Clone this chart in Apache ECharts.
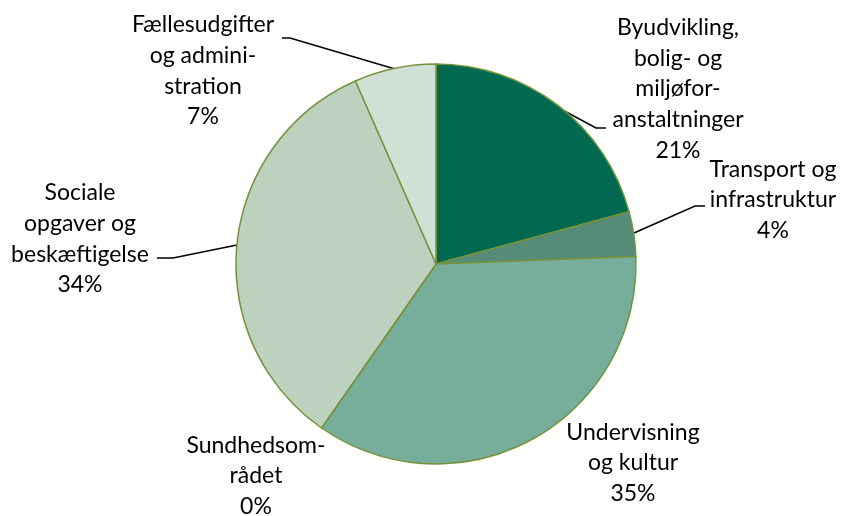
<!DOCTYPE html>
<html>
<head>
<meta charset="utf-8">
<script src="https://cdn.jsdelivr.net/npm/echarts@6/dist/echarts.min.js"></script>
<style>
  html, body { margin: 0; padding: 0; background: #fff; }
  #chart { width: 842px; height: 516px; }
</style>
</head>
<body>
<div id="chart"></div>
<script>
// Shares of the budget
const categories = [
  "Byudvikling,\nbolig- og\nmiljøfor-\nanstaltninger",
  "Transport og\ninfrastruktur",
  "Undervisning\nog kultur",
  "Sundhedsom-\nrådet",
  "Sociale\nopgaver og\nbeskæftigelse",
  "Fællesudgifter\nog admini-\nstration",
];
const values = [20.8, 3.6, 35.3, 0, 33.7, 6.6];
const percentLabels = ["21%", "4%", "35%", "0%", "34%", "7%"];
const sliceColors = ["#00694f", "#558b77", "#77ae9b", "#a9c6b0", "#bcd1be", "#d1e0d4"];

// where each label block sits (center of text) and its leader line
const labelSpots = [
  [678, 89], [773, 200], [633, 463], [256, 476], [80, 239], [203, 71],
];
const leaderLines = [
  [[557, 107], [596, 128], [606, 128]],
  [[634, 233], [695, 206], [705, 206]],
  null,
  null,
  [[237, 245], [173, 258], [157, 258]],
  [[395, 69], [290, 38], [282, 38]],
];

const chart = echarts.init(document.getElementById("chart"), null, { renderer: "canvas" });

chart.setOption({
  backgroundColor: "#fff",
  animation: false,
  series: [
    {
      type: "pie",
      center: [436, 264],
      radius: 200,
      startAngle: 90,
      clockwise: true,
      avoidLabelOverlap: false,
      minShowLabelAngle: 0,
      data: categories.map((name, i) => ({
        name,
        value: values[i],
        itemStyle: { color: sliceColors[i] },
        labelLine: { show: leaderLines[i] !== null },
      })),
      itemStyle: { borderColor: "#76923c", borderWidth: 1.5 },
      label: {
        show: true,
        position: "outside",
        color: "#000",
        fontFamily: "Lato",
        fontSize: 23,
        lineHeight: 30.7,
        align: "center",
        formatter: (p) => p.name + "\n" + percentLabels[p.dataIndex],
      },
      labelLine: {
        show: true,
        length: 20,
        length2: 8,
        lineStyle: { color: "#000", width: 1.5 },
      },
      labelLayout: (params) => {
        const i = params.dataIndex;
        const [x, y] = labelSpots[i];
        const out = { x, y, align: "center", verticalAlign: "middle" };
        if (leaderLines[i]) out.labelLinePoints = leaderLines[i];
        return out;
      },
      emphasis: { disabled: true },
    },
  ],
});
</script>
</body>
</html>
